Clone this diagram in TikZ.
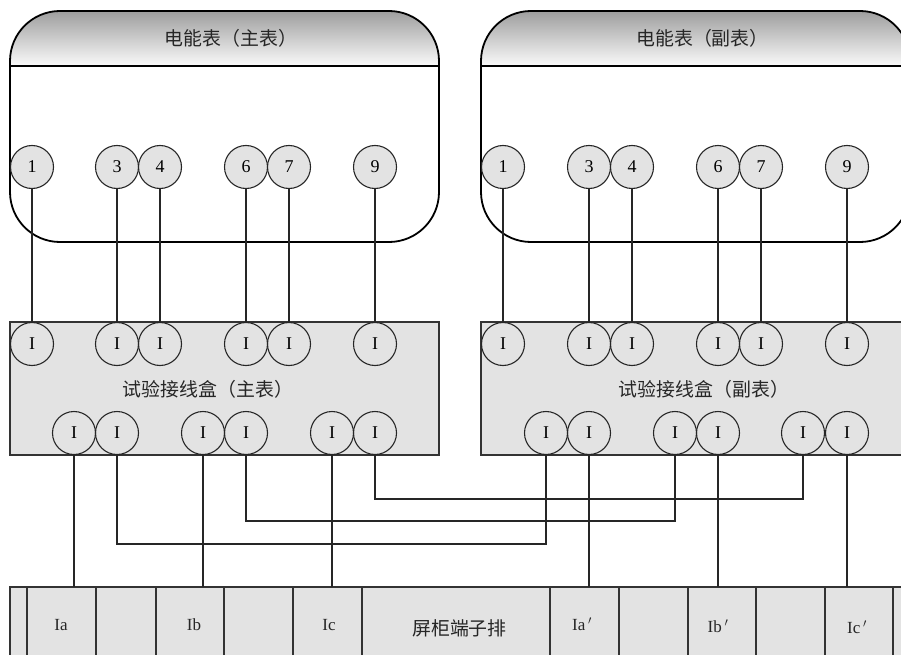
\documentclass[tikz,border=0pt]{standalone}
\usepackage{fontspec}
\setmainfont{Liberation Serif}
\newfontfamily\cjk{Noto Sans CJK SC}
\begin{document}
\begin{tikzpicture}[x=1pt,y=-1pt,
  frame/.style={draw=black!80,line width=1.4pt},
  meter/.style={draw=black,line width=1.8pt},
  term/.style={circle,draw=black!85,line width=1.1pt,minimum size=43pt,inner sep=0pt,font=\fontsize{18}{18}\selectfont},
  numterm/.style={term,fill=black!11},
  testterm/.style={term},
  wire/.style={draw=black!85,line width=1.2pt},
  cell/.style={draw=black!80,line width=1.2pt,fill=black!11},
  caption/.style={inner sep=0pt,font=\fontsize{18.9}{19}\selectfont\cjk,text=black!85},
  celltext/.style={inner sep=0pt,font=\fontsize{17}{17}\selectfont,text=black!85}]
\useasboundingbox (0,0) rectangle (901,655);
\clip (0,0) rectangle (901,655);
\fill[white] (0,0) rectangle (901,655);
% meters
\foreach \ox in {0,471}{
  \begin{scope}[xshift=\ox pt]
    \begin{scope}
      \clip[rounded corners=50pt] (10,11) rectangle (439,242);
      \shade[top color=black!38,bottom color=black!2] (10,11) rectangle (439,66);
    \end{scope}
    \draw[meter] (10,66) -- (439,66);
    \draw[meter,rounded corners=50pt] (10,11) rectangle (439,242);
    \draw[frame,fill=black!11] (10,322) rectangle (439,455);
  \end{scope}
}
\node[caption] at (231,38.5) {电能表（主表）};
\node[caption] at (702.5,38.5) {电能表（副表）};
\node[caption] at (208,389.5) {试验接线盒（主表）};
\node[caption] at (704,389.5) {试验接线盒（副表）};
% meter terminals
\node[numterm] (m1) at (32,167) {1};
\node[numterm] (m3) at (117,167) {3};
\node[numterm] (m4) at (160,167) {4};
\node[numterm] (m6) at (246,167) {6};
\node[numterm] (m7) at (289,167) {7};
\node[numterm] (m9) at (375,167) {9};
\node[numterm] (s1) at (503,167) {1};
\node[numterm] (s3) at (589,167) {3};
\node[numterm] (s4) at (632,167) {4};
\node[numterm] (s6) at (718,167) {6};
\node[numterm] (s7) at (761,167) {7};
\node[numterm] (s9) at (847,167) {9};
\foreach \n/\x in {a1/32,a3/117,a4/160,a6/246,a7/289,a9/375,b1/503,b3/589,b4/632,b6/718,b7/761,b9/847}
  \node[testterm] (\n) at (\x,344) {I};
\foreach \n/\x in {c1/74,c2/117,c3/203,c4/246,c5/332,c6/375,d1/546,d2/589,d3/675,d4/718,d5/803,d6/847}
  \node[testterm] (\n) at (\x,433) {I};
\foreach \f/\t in {m1/a1,m3/a3,m4/a4,m6/a6,m7/a7,m9/a9,s1/b1,s3/b3,s4/b4,s6/b6,s7/b7,s9/b9}
  \draw[wire] (\f) -- (\t);
% terminal strip
\foreach \l/\r in {10/27,27/96,96/156,156/224,224/293,293/362,362/550,550/619,619/688,688/756,756/825,825/893,893/915}
  \draw[cell] (\l,587) rectangle (\r,660);
\node[celltext] at (61,625) {Ia};
\node[celltext] at (194,625) {Ib};
\node[celltext] at (329,625) {Ic};
\node[caption] at (459.5,628) {屏柜端子排};
\node[celltext] at (582,624) {Ia\,$'$};
\node[celltext] at (718,626) {Ib\,$'$};
\node[celltext] at (857,627) {Ic\,$'$};
\coordinate (ta) at (74,587);
\coordinate (tb) at (203,587);
\coordinate (tc) at (332,587);
\coordinate (td) at (589,587);
\coordinate (te) at (718,587);
\coordinate (tf) at (847,587);
\draw[wire] (c1) -- (ta);
\draw[wire] (c3) -- (tb);
\draw[wire] (c5) -- (tc);
\draw[wire] (d2) -- (td);
\draw[wire] (d4) -- (te);
\draw[wire] (d6) -- (tf);
\draw[wire] (c2.south) |- (117,544) -| (d1.south);
\draw[wire] (c4.south) |- (246,521) -| (d3.south);
\draw[wire] (c6.south) |- (375,499) -| (d5.south);
\end{tikzpicture}
\end{document}
